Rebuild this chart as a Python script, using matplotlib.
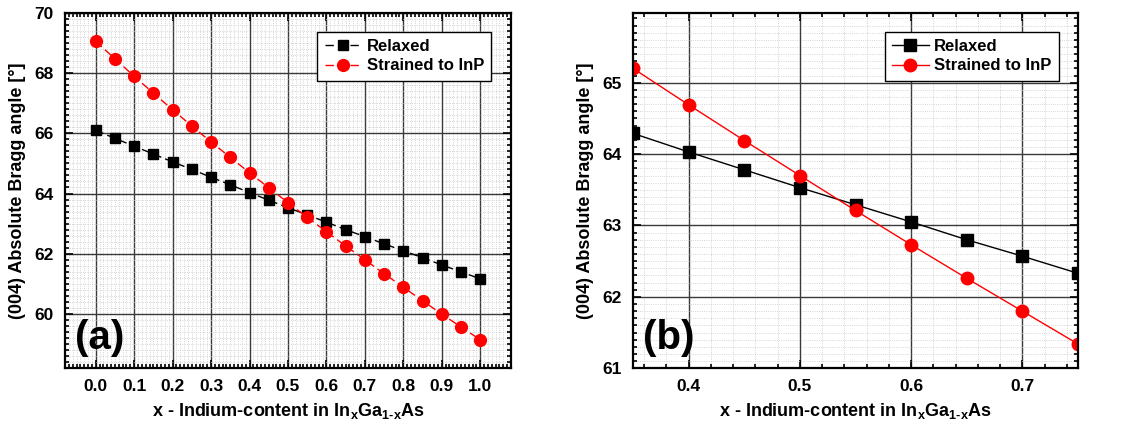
import numpy as np
import matplotlib
matplotlib.use("Agg")
import matplotlib.pyplot as plt
from matplotlib.ticker import MultipleLocator

plt.rcParams['font.family'] = ['Liberation Sans', 'DejaVu Sans']
plt.rcParams['font.weight'] = 'bold'
plt.rcParams['mathtext.fontset'] = 'custom'
plt.rcParams['mathtext.rm'] = 'Liberation Sans:bold'
plt.rcParams['mathtext.bf'] = 'Liberation Sans:bold'

# ── Data ───────────────────────────────────────────────────
x_content = [0.00, 0.05, 0.10, 0.15, 0.20, 0.25, 0.30, 0.35, 0.40, 0.45, 0.50,
             0.55, 0.60, 0.65, 0.70, 0.75, 0.80, 0.85, 0.90, 0.95, 1.00]
relaxed = [66.10, 65.83, 65.57, 65.31, 65.05, 64.80, 64.54, 64.29, 64.03, 63.78, 63.53,
           63.29, 63.05, 62.80, 62.57, 62.33, 62.10, 61.87, 61.63, 61.40, 61.17]
strained = [69.05, 68.47, 67.89, 67.33, 66.78, 66.24, 65.71, 65.20, 64.69, 64.19, 63.70,
            63.21, 62.73, 62.26, 61.80, 61.34, 60.89, 60.44, 60.00, 59.57, 59.15]

xlabel = r'x - Indium-content in In$_\mathbf{x}$Ga$_\mathbf{1\text{-}x}$As'
ylabel = '(004) Absolute Bragg angle [°]'

fig = plt.figure(figsize=(11.24, 4.34), dpi=100)
ax1 = fig.add_axes([0.0578, 0.1514, 0.3968, 0.8193])
ax2 = fig.add_axes([0.5632, 0.1514, 0.3959, 0.8193])


def style(ax, xmaj, xmin, ymaj, ymin):
    ax.xaxis.set_major_locator(MultipleLocator(xmaj))
    ax.xaxis.set_minor_locator(MultipleLocator(xmin))
    ax.yaxis.set_major_locator(MultipleLocator(ymaj))
    ax.yaxis.set_minor_locator(MultipleLocator(ymin))
    ax.grid(True, which='minor', color='#c8c8c8', linestyle=':', linewidth=0.6)
    ax.grid(True, which='major', color='#3a3a3a', linestyle='-', linewidth=1.0)
    ax.set_axisbelow(True)
    ax.tick_params(which='both', direction='in', top=True, right=True, width=1.2)
    ax.tick_params(which='major', length=6, labelsize=12.5, pad=8)
    ax.tick_params(which='minor', length=3)
    for s in ax.spines.values():
        s.set_linewidth(1.6)
    ax.set_xlabel(xlabel, fontsize=13, fontweight='bold', labelpad=5)
    ax.set_ylabel(ylabel, fontsize=13, fontweight='bold', labelpad=6)
    leg = ax.legend(loc='upper right', fontsize=12, frameon=True, fancybox=False,
                    edgecolor='black', framealpha=1, handlelength=2.2,
                    handletextpad=0.3, borderpad=0.45, labelspacing=0.25,
                    bbox_to_anchor=(0.975, 0.97))
    leg.get_frame().set_linewidth(1.0)


# ── Panel (a): full range ───────────────────────────────────
ax1.plot(x_content, relaxed, color='black', linestyle=(0, (6, 3)), linewidth=1.0,
         marker='s', markersize=7.5, label='Relaxed')
ax1.plot(x_content, strained, color='red', linestyle=(0, (6, 3)), linewidth=1.0,
         marker='o', markersize=8.5, label='Strained to InP')
ax1.set_xlim(-0.08, 1.08)
ax1.set_ylim(58.2, 70)
style(ax1, 0.1, 0.01, 2, 0.2)
ax1.set_xticks(np.arange(0, 1.01, 0.1))
ax1.set_xticklabels([f'{v:.1f}' for v in np.arange(0, 1.01, 0.1)])
ax1.text(0.078, 0.085, '(a)', transform=ax1.transAxes, fontsize=29, fontweight='bold',
         ha='center', va='center')

# ── Panel (b): zoom ──────────────────────────────────────────
ax2.plot(x_content, relaxed, color='black', linestyle='-', linewidth=1.0,
         marker='s', markersize=8, label='Relaxed')
ax2.plot(x_content, strained, color='red', linestyle='-', linewidth=1.0,
         marker='o', markersize=9, label='Strained to InP')
ax2.set_xlim(0.35, 0.75)
ax2.set_ylim(61, 65.98)
style(ax2, 0.1, 0.02, 1, 0.1)
ax2.set_yticks([61, 62, 63, 64, 65])
ax2.text(0.08, 0.085, '(b)', transform=ax2.transAxes, fontsize=29, fontweight='bold',
         ha='center', va='center')

fig.savefig('out.png', dpi=100)
